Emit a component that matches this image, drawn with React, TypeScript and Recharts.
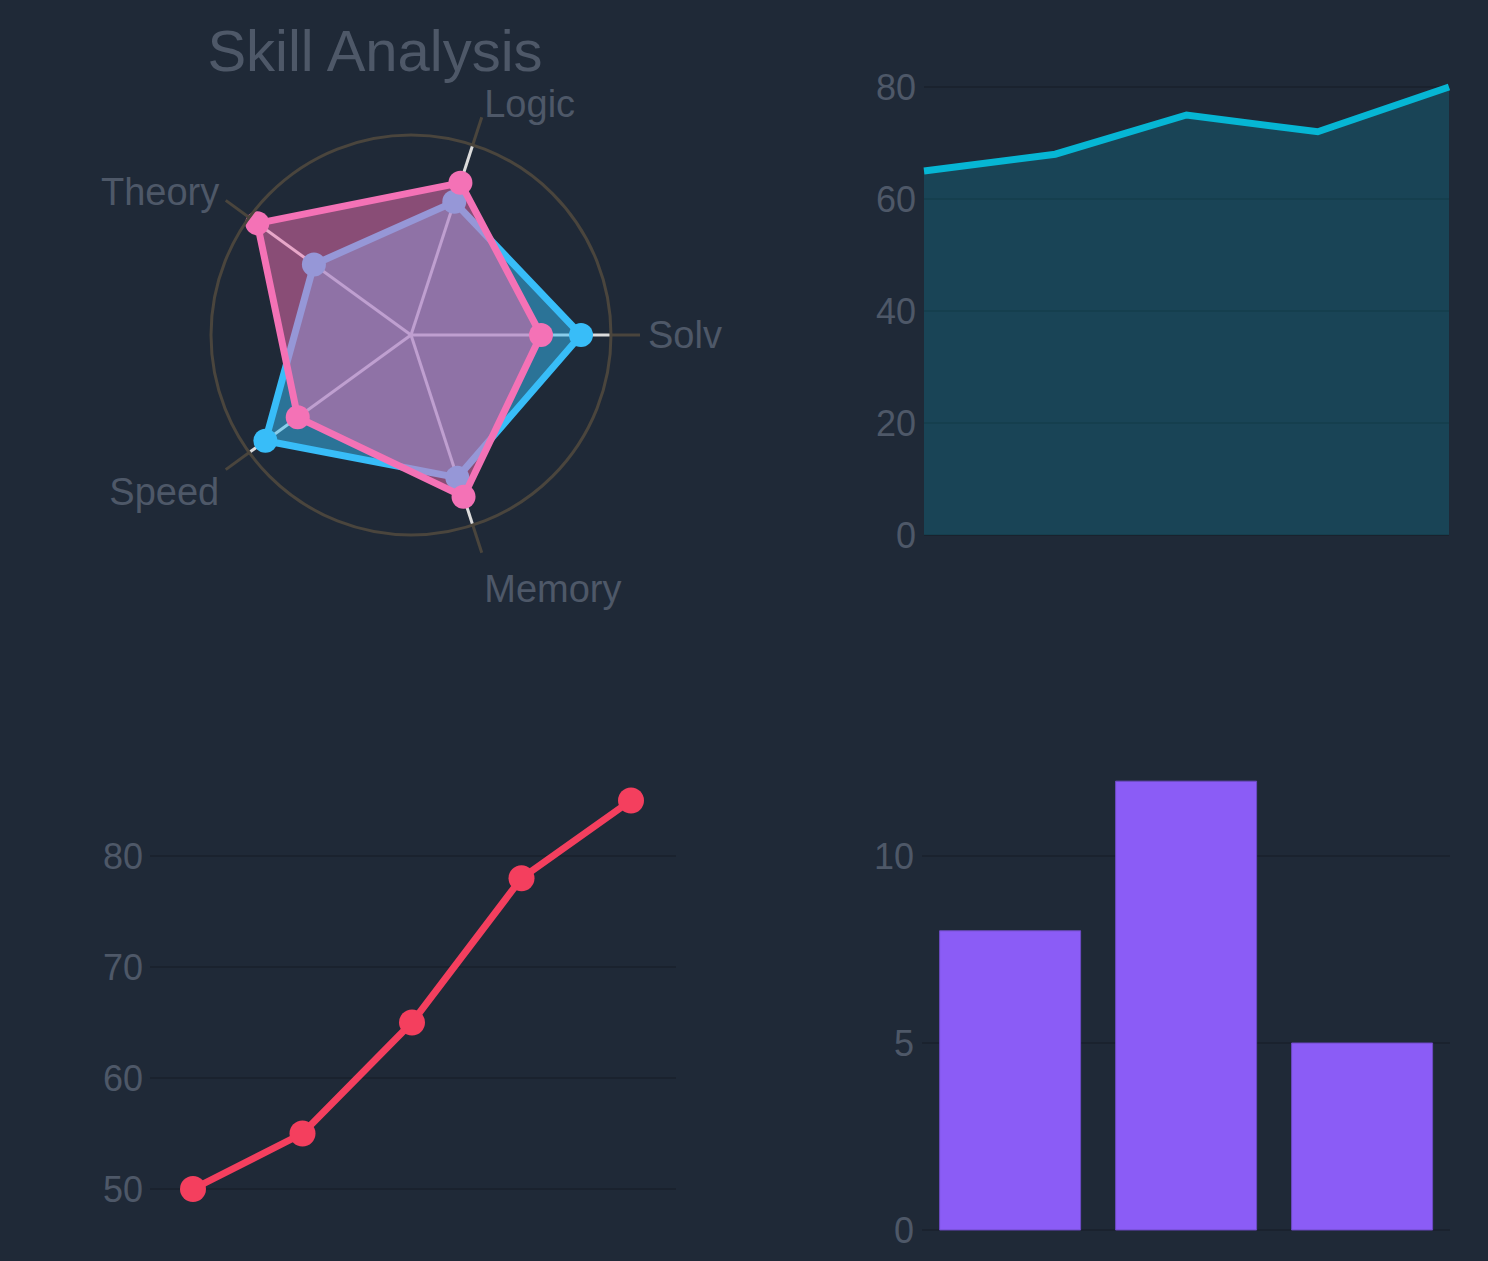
import React from 'react';
import {
  RadarChart, Radar, PolarGrid, PolarAngleAxis, PolarRadiusAxis,
  AreaChart, Area, LineChart, Line, BarChart, Bar, XAxis, YAxis, CartesianGrid,
} from 'recharts';

// ---------- data ----------
const skillNames = ['Solv', 'Logic', 'Theory', 'Speed', 'Memory'];
const skillsBlue = [85, 70, 60, 90, 75];
const skillsPink = [65, 80, 95, 70, 85];

const trendLabels = ['1', '2', '3', '4', '5'];
const trendValues = [65, 68, 75, 72, 80];
const trendTicks = [0, 20, 40, 60, 80];

const progressLabels = ['1', '2', '3', '4', '5'];
const progressValues = [50, 55, 65, 78, 85];
const progressTicks = [50, 60, 70, 80];

const barLabels = ['A', 'B', 'C'];
const barValues = [8, 12, 5];
const barTicks = [0, 5, 10];

// ---------- style ----------
const BG = '#1f2937';
const TEXT = '#4e5868';
const FONT = '"Liberation Sans", Arial, sans-serif';
const GRID = 'rgba(0,0,0,0.16)';

const RCX = 411;
const RCY = 335;
const RR = 200;
const TICK_LEN = 29;

const radarData = skillNames.map((s, i) => ({ skill: s, a: skillsBlue[i], b: skillsPink[i] }));
const trendData = trendLabels.map((l, i) => ({ x: l, v: trendValues[i] }));
const progressData = progressLabels.map((l, i) => ({ x: l, v: progressValues[i] }));
const barData = barLabels.map((l, i) => ({ x: l, v: barValues[i] }));

// label placed on the spoke of its own category (counter-clockwise from 0°)
const AngleTick = (props: any) => {
  const { payload } = props;
  const idx = skillNames.indexOf(payload.value);
  const deg = (360 / skillNames.length) * idx;
  const th = (deg * Math.PI) / 180;
  const c = Math.cos(th);
  const s = Math.sin(th);
  const r = RR + TICK_LEN;
  const x = RCX + r * c + c * 8;
  const y = RCY - r * s - (s > 0 ? s * 14 : s * 38);
  const anchor = c > 0.1 ? 'start' : c < -0.1 ? 'end' : 'middle';
  return (
    <text x={x} y={y} textAnchor={anchor} dominantBaseline="central" fill={TEXT} fontSize={38} fontFamily={FONT}>
      {payload.value}
    </text>
  );
};

// polygon + markers drawn together so a later series covers earlier markers
const radarShape = (color: string) => (props: any) => {
  const pts = (props.points || []) as { x: number; y: number }[];
  if (!pts.length) return null;
  const d = pts.map((p, i) => `${i === 0 ? 'M' : 'L'}${p.x},${p.y}`).join(' ') + ' Z';
  return (
    <g>
      <path d={d} fill={color} fillOpacity={0.5} stroke={color} strokeWidth={7} strokeLinejoin="round" />
      {pts.map((p, i) => (
        <circle key={i} cx={p.x} cy={p.y} r={12} fill={color} />
      ))}
    </g>
  );
};

const tickStyle = { fill: TEXT, fontSize: 36, fontFamily: FONT };

export default function App() {
  return (
    <div style={{ position: 'absolute', left: 0, top: 0, width: 1488, height: 1261, background: BG, overflow: 'hidden', fontFamily: FONT }}>
      {/* Radar */}
      <div style={{ position: 'absolute', left: 0, top: 0, width: 744, height: 630 }}>
        <RadarChart width={744} height={630} data={radarData} cx={RCX} cy={RCY} outerRadius={RR} startAngle={-72} endAngle={288} margin={{ top: 0, right: 0, bottom: 0, left: 0 }}>
          <PolarGrid gridType="circle" polarRadius={[0]} stroke="#dcdcdc" strokeWidth={3} />
          <PolarAngleAxis
            dataKey="skill"
            axisLineType="circle"
            axisLine={{ stroke: '#4a453d', strokeWidth: 3 }}
            tickLine={{ stroke: '#4a453d', strokeWidth: 3 }}
            tickSize={TICK_LEN}
            tick={AngleTick}
          />
          <PolarRadiusAxis domain={[0, 100]} tick={false} axisLine={false} tickLine={false} />
          <Radar dataKey="a" stroke="#38bdf8" fill="#38bdf8" isAnimationActive={false} dot={false} shape={radarShape('#38bdf8')} />
          <Radar dataKey="b" stroke="#f472b6" fill="#f472b6" isAnimationActive={false} dot={false} shape={radarShape('#f472b6')} />
        </RadarChart>
      </div>
      <div style={{ position: 'absolute', left: 0, width: 750, top: 29, textAlign: 'center', fontSize: 58, color: TEXT, fontFamily: FONT, lineHeight: '44px' }}>
        Skill Analysis
      </div>

      {/* Area */}
      <div style={{ position: 'absolute', left: 744, top: 0, width: 744, height: 630 }}>
        <AreaChart width={744} height={630} data={trendData} margin={{ top: 64.6, right: 39, bottom: 95, left: 100 }}>
          <CartesianGrid vertical={false} stroke={GRID} strokeWidth={2} syncWithTicks />
          <XAxis dataKey="x" hide padding={{ left: 0, right: 0 }} />
          <YAxis width={80} domain={[0, 84]} ticks={trendTicks} axisLine={false} tickLine={false} tickSize={0} tickMargin={8} tick={tickStyle} />
          <Area type="linear" dataKey="v" stroke="#06b6d4" strokeWidth={7} fill="#06b6d4" fillOpacity={0.2} isAnimationActive={false} dot={false} activeDot={false} />
        </AreaChart>
      </div>

      {/* Line */}
      <div style={{ position: 'absolute', left: 0, top: 630, width: 744, height: 631 }}>
        <LineChart width={744} height={631} data={progressData} margin={{ top: 142.75, right: 68, bottom: 44.25, left: 50 }}>
          <CartesianGrid vertical={false} stroke={GRID} strokeWidth={2} syncWithTicks />
          <XAxis dataKey="x" hide padding={{ left: 43, right: 45 }} />
          <YAxis width={100} domain={[47.5, 87.5]} ticks={progressTicks} axisLine={false} tickLine={false} tickSize={0} tickMargin={7} tick={tickStyle} />
          <Line type="linear" dataKey="v" stroke="#f43f5e" strokeWidth={7} isAnimationActive={false}
            dot={{ r: 13, fill: '#f43f5e', stroke: 'none' }} activeDot={false} />
        </LineChart>
      </div>

      {/* Bar */}
      <div style={{ position: 'absolute', left: 744, top: 630, width: 744, height: 631 }}>
        <BarChart width={744} height={631} data={barData} margin={{ top: 127.6, right: 38, bottom: 31, left: 98 }} barCategoryGap="10%">
          <CartesianGrid vertical={false} stroke={GRID} strokeWidth={2} syncWithTicks />
          <XAxis dataKey="x" hide />
          <YAxis width={80} domain={[0, 12.63]} ticks={barTicks} axisLine={false} tickLine={false} tickSize={0} tickMargin={8} tick={tickStyle} />
          <Bar dataKey="v" fill="#8b5cf6" stroke="#6d4bc4" strokeWidth={1} isAnimationActive={false} />
        </BarChart>
      </div>
    </div>
  );
}
